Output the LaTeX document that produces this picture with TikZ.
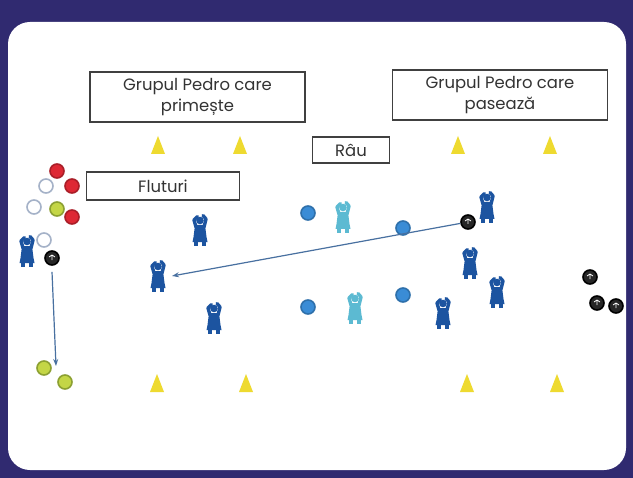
\documentclass[tikz,border=0pt]{standalone}
\usepackage{fontspec}
\setmainfont{Poppins}
\usetikzlibrary{arrows.meta}

\definecolor{framecol}{RGB}{48,42,112}
\definecolor{conecol}{RGB}{238,218,48}
\definecolor{pdark}{RGB}{28,84,160}
\definecolor{plight}{RGB}{92,186,210}
\definecolor{bblue}{RGB}{58,140,214}
\definecolor{passcol}{RGB}{72,112,160}

\tikzset{
  pics/player/.style={code={
    % robe, head and raised arms
    \fill (-5,-5) -- (5,-5) -- (6.5,7) -- (7.5,12) -- (-7.5,12) -- (-6.5,7) -- cycle;
    \fill (-6,11) rectangle (-2,16);
    \fill (2,11) rectangle (6,16);
    \fill (0,-9.5) circle (3.8);
    \draw[line width=3.4bp, line cap=round, line join=round] (-4,-3) -- (-6,-10) -- (-2.5,-13.5);
    \draw[line width=3.4bp, line cap=round, line join=round] (4,-3) -- (6,-11) -- (3,-14.5);
  }},
  pics/cone/.style={code={
    \fill[conecol] (-7,9) -- (0,-9) -- (7,9) -- cycle;
  }}
}

\begin{document}
\begin{tikzpicture}[x=1bp, y=-1bp]
\tikzstyle{label} = [draw=black!75, line width=1.3bp, fill=white, text=black!80, align=center, inner sep=0, font=\fontsize{16.5}{21}\selectfont]
\tikzstyle{ball} = [circle, minimum size=14bp, inner sep=0, line width=1.6bp]
\tikzstyle{redball} = [ball, fill={rgb,255:red,222;green,40;blue,52}, draw={rgb,255:red,170;green,30;blue,40}]
\tikzstyle{whiteball} = [ball, fill=white, draw={rgb,255:red,165;green,178;blue,200}]
\tikzstyle{greenball} = [ball, fill={rgb,255:red,196;green,214;blue,70}, draw={rgb,255:red,140;green,160;blue,50}]
\tikzstyle{blackball} = [ball, fill=black!85, draw=black, path picture={
    \draw[white, line width=0.8bp] (path picture bounding box.center) ++(-3,-1) -- ++(3,-2) -- ++(3,2) ++(-3,-2) -- ++(0,5);}]
\tikzstyle{blueball} = [ball, fill=bblue, draw=bblue!80!black]
\tikzstyle{pass} = [-{Stealth[length=7bp, width=5bp]}, passcol, line width=1.2bp]

% frame and pitch
\fill[framecol] (0,0) rectangle (633,478);
\fill[white, rounded corners=22bp] (8,22) rectangle (626,470);

% text boxes
\node (recvbox) [label, minimum width=215bp, minimum height=50bp] at (197.5,97) {Grupul Pedro care\\primește};
\node (passbox) [label, minimum width=215bp, minimum height=50bp] at (500,95) {Grupul Pedro care\\pasează};
\node (river) [label, minimum width=77bp, minimum height=26bp] at (351,150) {Râu};
\node (butter) [label, minimum width=153bp, minimum height=28bp] at (163,186) {Fluturi};

% cones
\foreach \cx/\cy in {158/145, 240/145, 458/145, 550/145, 157/383, 246/383, 467/383, 557/383}
  \pic at (\cx,\cy) {cone};

% balls by the start
\node (r1) [redball] at (57,171) {};
\node (r2) [redball] at (72,186) {};
\node (r3) [redball] at (72,217) {};
\node (w1) [whiteball] at (46,186) {};
\node (w2) [whiteball] at (34,207) {};
\node (w3) [whiteball] at (44,240) {};
\node (g1) [greenball] at (57,209) {};
\node (b0) [blackball] at (52,258) {};
\node (g2) [greenball] at (44,368) {};
\node (g3) [greenball] at (65,382) {};

% balls on the right
\node (b1) [blackball] at (468,222) {};
\node (b2) [blackball] at (590,277) {};
\node (b3) [blackball] at (597,303) {};
\node (b4) [blackball] at (616,306) {};

% river balls
\node (u1) [blueball] at (308,213) {};
\node (u2) [blueball] at (403,228) {};
\node (u3) [blueball] at (308,307) {};
\node (u4) [blueball] at (403,295) {};

% players
\coordinate (start) at (27,251);
\coordinate (catch) at (158,276);
\coordinate (rec1) at (200,230);
\coordinate (rec2) at (214,318);
\coordinate (sh1) at (487,207);
\coordinate (sh2) at (470,263);
\coordinate (sh3) at (497,292);
\coordinate (sh4) at (443,313);
\coordinate (riv1) at (343,217);
\coordinate (riv2) at (355,308);
\foreach \p in {start, catch, rec1, rec2, sh1, sh2, sh3, sh4}
  \pic[color=pdark] at (\p) {player};
\foreach \p in {riv1, riv2}
  \pic[color=plight] at (\p) {player};

% passes
\coordinate (drop) at (56,366);
\draw[pass] (b1) -- ([xshift=14bp]catch);
\draw[pass] (b0.south) ++(0,6) -- (drop);
\end{tikzpicture}
\end{document}
